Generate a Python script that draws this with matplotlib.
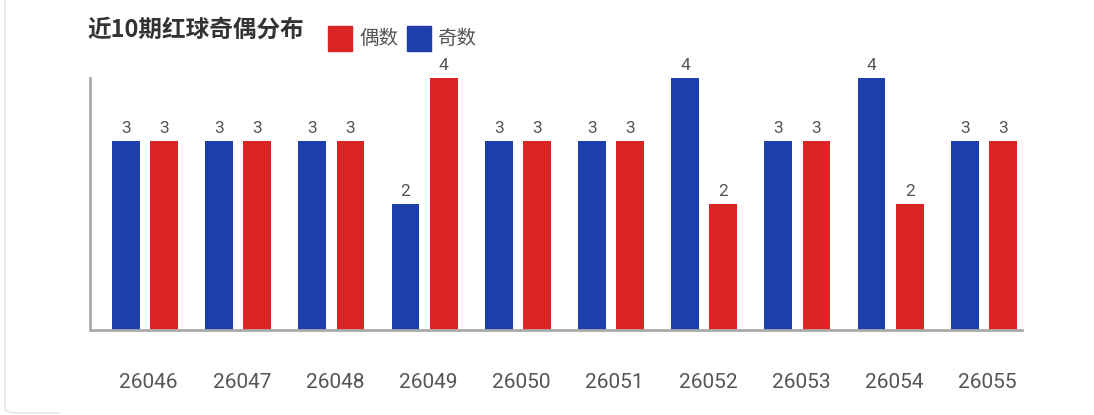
import numpy as np
import matplotlib.pyplot as plt
from matplotlib.patches import FancyBboxPatch, Rectangle

plt.rcParams['font.family'] = ['Roboto', 'Noto Sans CJK SC', 'DejaVu Sans']

# datos: numeros pares e impares de las ultimas 10 tiradas
periodos = ['26046', '26047', '26048', '26049', '26050',
            '26051', '26052', '26053', '26054', '26055']
impares = [3, 3, 3, 2, 3, 3, 4, 3, 4, 3]   # 奇数
pares = [3, 3, 3, 4, 3, 3, 2, 3, 2, 3]     # 偶数

azul = '#1e3fab'
rojo = '#db2424'
gris_texto = '#555555'

fig = plt.figure(figsize=(10.94, 4.15), dpi=100)
W, H = 1094, 415
ax = fig.add_axes([90 / W, 1 - 330 / H, 932 / W, 252 / H])

x = np.arange(len(periodos))
ancho = 0.30
desp = 0.205

b1 = ax.bar(x - desp, impares, ancho, color=azul)
b2 = ax.bar(x + desp, pares, ancho, color=rojo)

for barras in (b1, b2):
    for b in barras:
        ax.text(b.get_x() + b.get_width() / 2, b.get_height() + 0.08,
                str(int(b.get_height())), ha='center', va='bottom',
                fontsize=12.5, color=gris_texto)

ax.set_xlim(-0.59, 9.41)
ax.set_ylim(0, 4)
ax.set_xticks(x + 0.04)
ax.set_xticklabels(periodos, fontsize=15, color=gris_texto)
ax.tick_params(axis='x', length=0, pad=31)
ax.set_yticks([])
for s in ('top', 'right'):
    ax.spines[s].set_visible(False)
for s in ('left', 'bottom'):
    ax.spines[s].set_color('#aaaaaa')
    ax.spines[s].set_linewidth(2)

# titulo
fig.text(87 / W, 1 - 30 / H, '近10期红球奇偶分布', fontsize=17, fontweight='bold',
         color='#333333', va='center', ha='left',
         family=['Noto Sans CJK SC', 'DejaVu Sans'])

# leyenda hecha a mano
for xi, col, txt in ((328, rojo, '偶数'), (407, azul, '奇数')):
    fig.patches.append(Rectangle((xi / W, 1 - 51 / H), 24 / W, 25 / H,
                                 transform=fig.transFigure, color=col))
    fig.text((xi + 31) / W, 1 - 39 / H, txt, fontsize=14, color=gris_texto,
             va='center', ha='left', family=['Noto Sans CJK SC', 'DejaVu Sans'])

# marco redondeado (solo se ve el borde izquierdo)
marco = FancyBboxPatch((5 / W, 2 / H), 1.2, 1.2,
                       boxstyle='round,pad=0,rounding_size=0.012',
                       transform=fig.transFigure, fill=False,
                       edgecolor='#e6e6e6', linewidth=1.2)
fig.patches.append(marco)
recorte = Rectangle((0, 0), 60 / W, 1, transform=fig.transFigure)
marco.set_clip_path(recorte)

fig.savefig('out.png', dpi=100)
